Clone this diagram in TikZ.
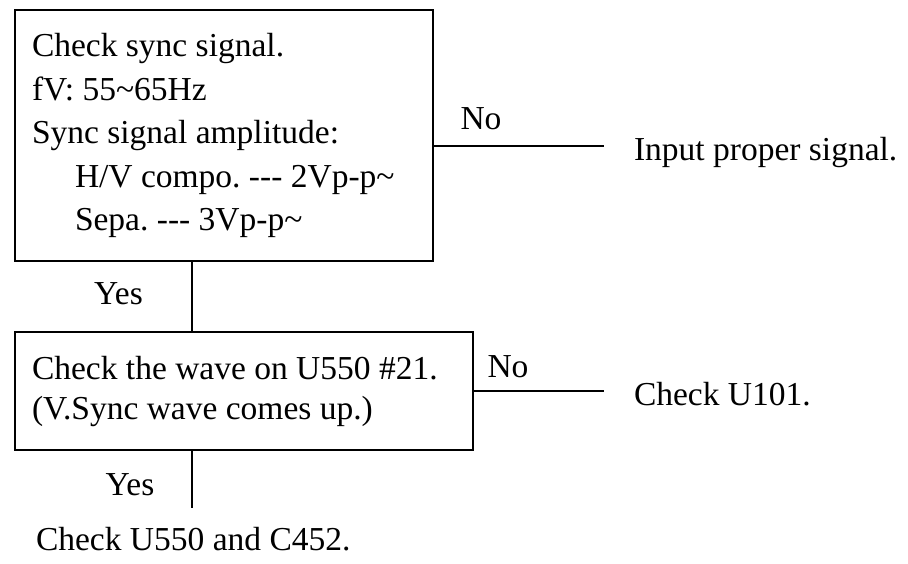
\documentclass[tikz,border=0pt]{standalone}
\usepackage{fontspec}
\setmainfont{Liberation Serif}[Ligatures=TeXOff]
\usetikzlibrary{positioning}

\begin{document}
\begin{tikzpicture}[x=1pt,y=-1pt,line width=2pt,font=\fontsize{33.5}{43.5}\selectfont\frenchspacing,
  every node/.style={align=left,inner sep=0pt},
  box/.style={draw,line width=2.4pt,inner xsep=17pt,execute at begin node={\spaceskip=0.25em\relax}}]
  \useasboundingbox (0,0) rectangle (908,564);
  % check boxes
  \node[box,text width=384pt,minimum height=251pt] (sync) at (224,135.5) {Check sync signal.\\fV: 55\textasciitilde65Hz\\Sync signal amplitude:\\\hspace*{43pt}H/V compo. --- 2Vp-p\textasciitilde\\\hspace*{43pt}Sepa. --- 3Vp-p\textasciitilde};
  \node[box,text width=424pt,minimum height=118pt,font=\fontsize{33.5}{40}\selectfont\frenchspacing] (wave) at (244,391) {Check the wave on U550 \#21.\\(V.Sync wave comes up.)};
  % yes branch
  \coordinate (sp) at (192,0);
  \coordinate (down) at (192,508);
  \draw (sync.south -| sp) -- (wave.north -| sp);
  \draw (wave.south -| sp) -- (down);
  \node[anchor=base] (yes1) at (118.5,305) {Yes};
  \node[anchor=base] (yes2) at (130,495) {Yes};
  \node[anchor=base west] (final) at (35,550) {Check U550 and C452.};
  % no branch
  \coordinate (no1) at (604,146);
  \coordinate (no2) at (604,391);
  \draw (sync.east |- no1) -- (no1);
  \draw (wave.east |- no2) -- (no2);
  \node[anchor=base] (nolbl1) at (481,130) {No};
  \node[anchor=base] (nolbl2) at (508,377) {No};
  \node[anchor=base west] (input) at (633,161) {Input proper signal.};
  \node[anchor=base west] (u101) at (633,405) {Check U101.};
\end{tikzpicture}
\end{document}
